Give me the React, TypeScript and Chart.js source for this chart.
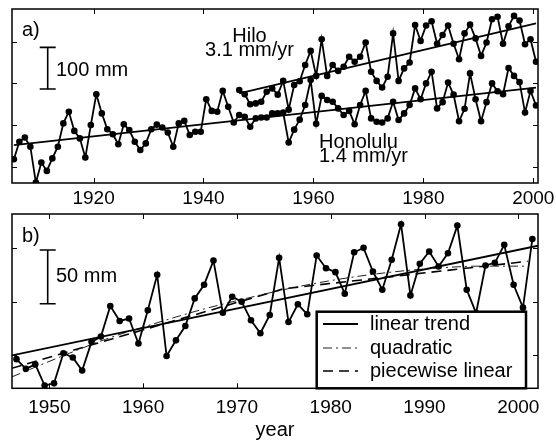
import React, { useEffect, useRef } from "react";
import { Chart, registerables } from "chart.js";
Chart.register(...registerables);

const FONT = "'Liberation Sans', Arial, Helvetica, sans-serif";

// ---------- panel a) ----------
const honoluluStartYear = 1905;
const honoluluValues = [
  18, 60, 70, 48, -38, 10, -10, 20, 48, 104,
  132, 86, 68, 22, 100, 174, 128, 90, 78, 54,
  102, 88, 60, 40, 56, 90, 101, 94, 82, 48,
  104, 110, 76, 84, 84, 162, 134, 132, 182, 144,
  106, 124, 120, 96, 116, 118, 118, 128, 128, 130,
  58, 89, 113, 148, 208, 103, 170, 160, 156, 140,
  124, 134, 102, 148, 182, 116, 108, 106, 116, 156,
  112, 128, 148, 188, 162, 200, 228, 140, 155, 202,
  173, 109, 139, 224, 162, 109, 155, 200, 181, 174,
  237, 218, 203, 130, 182, 147,
];
const hiloStartYear = 1946;
const hiloValues = [
  184, 174, 150, 152, 156, 180, 188, 173, 206, 137,
  196, 205, 244, 278, 218, 306, 218, 244, 230, 240,
  264, 252, 264, 298, 228, 206, 190, 216, 320, 206,
  236, 250, 340, 302, 339, 349, 295, 316, 339, 295,
  258, 320, 341, 308, 266, 298, 354, 360, 295, 337,
  362, 351, 294, 306, 252,
];
const honoluluTrendYears = [1905.5, 2000.5];
const honoluluTrendValues = [52, 190];
const hiloTrendYears = [1946.5, 2000.5];
const hiloTrendValues = [176, 344];
const topTickYears = [1920, 1940, 1960, 1980, 2000];
const topYTicks = [0, 100, 200, 300];

// ---------- panel b) ----------
const bottomStartYear = 1946;
const bottomValues = [
  -3.5, -12.5, -8.3, -28, -26, 2, -2, -14, 12.6, 17.5,
  46, 32, 34.3, 11, 42, 75, -0.5, 14, 27.3, 53,
  65.7, 88.2, 39.6, 54.6, 50, 32.7, 20.6, 37.6, 90.7, 31,
  47.5, 38.2, 92.9, 81.1, 77.4, 57.4, 95.9, 100, 78, 61.1,
  88.9, 122, 55.8, 85.2, 96.6, 82.7, 95, 120.7, 61.1, 39.4,
  83.6, 86.1, 102.8, 65.7, 44.4, 108.3,
];
const linearYears = [1946, 2002.1];
const linearValues = [0, 102];
const quadYears = [1946, 1951, 1956, 1961, 1966, 1971, 1976, 1981, 1986, 1991, 1996, 2001];
const quadValues = [-20, -2, 15, 29, 42, 53, 63, 71, 77, 81, 83, 83];
const pieceYears = [1946, 1975, 2001];
const pieceValues = [-12, 62, 87.5];
const bottomTickYears = [1950, 1960, 1970, 1980, 1990, 2000];
const bottomYTicks = [0, 50, 100];

const MID = 0.5; // annual values plotted at mid-year

const pts = (start: number, vals: number[]) => vals.map((v, i) => ({ x: start + i + MID, y: v }));
const pairs = (xs: number[], ys: number[]) => xs.map((x, i) => ({ x, y: ys[i] }));

function framePlugin(xTicks: number[], yTicks: number[]) {
  return {
    id: "frame",
    afterDatasetsDraw(chart: any) {
      const { ctx, chartArea: a, scales } = chart;
      ctx.save();
      ctx.strokeStyle = "#000";
      ctx.lineWidth = 1;
      const L = 5;
      ctx.beginPath();
      xTicks.forEach((v) => {
        const px = Math.round(scales.x.getPixelForValue(v)) + 0.5;
        ctx.moveTo(px, a.bottom);
        ctx.lineTo(px, a.bottom - L);
        ctx.moveTo(px, a.top);
        ctx.lineTo(px, a.top + L);
      });
      yTicks.forEach((v) => {
        const py = Math.round(scales.y.getPixelForValue(v)) + 0.5;
        ctx.moveTo(a.left, py);
        ctx.lineTo(a.left + L, py);
        ctx.moveTo(a.right, py);
        ctx.lineTo(a.right - L, py);
      });
      ctx.stroke();
      ctx.lineWidth = 1.5;
      ctx.strokeRect(a.left, a.top, a.right - a.left, a.bottom - a.top);
      ctx.restore();
    },
  };
}

type Txt = { t: string; x: number; y: number; align?: CanvasTextAlign };

function notesPlugin(texts: Txt[], bar: { x: number; bottom: number; len: number }) {
  return {
    id: "notes",
    afterDraw(chart: any) {
      const { ctx, scales } = chart;
      ctx.save();
      ctx.fillStyle = "#000";
      ctx.font = `20px ${FONT}`;
      ctx.textBaseline = "alphabetic";
      texts.forEach((s) => {
        ctx.textAlign = s.align || "left";
        ctx.fillText(s.t, s.x, s.y);
      });
      const h = scales.y.getPixelForValue(0) - scales.y.getPixelForValue(bar.len);
      ctx.strokeStyle = "#000";
      ctx.lineWidth = 1.6;
      ctx.beginPath();
      ctx.moveTo(bar.x, bar.bottom);
      ctx.lineTo(bar.x, bar.bottom - h);
      ctx.moveTo(bar.x - 8, bar.bottom);
      ctx.lineTo(bar.x + 8, bar.bottom);
      ctx.moveTo(bar.x - 8, bar.bottom - h);
      ctx.lineTo(bar.x + 8, bar.bottom - h);
      ctx.stroke();
      ctx.restore();
    },
  };
}

const legendPlugin = {
  id: "boxLegend",
  afterDraw(chart: any) {
    const { ctx, chartArea: a } = chart;
    const items = chart.data.datasets.filter((d: any) => d.inLegend);
    const left = 316.7, right = 526, top = 101.7, bottom = a.bottom;
    ctx.save();
    ctx.fillStyle = "#fff";
    ctx.fillRect(left, top, right - left, bottom - top);
    ctx.strokeStyle = "#000";
    ctx.lineWidth = 2.5;
    ctx.strokeRect(left, top, right - left, bottom - top);
    const rows = [114, 138, 161];
    items.forEach((d: any, i: number) => {
      const y = rows[i];
      ctx.beginPath();
      ctx.setLineDash(d.borderDash || []);
      ctx.lineWidth = d.borderWidth;
      ctx.strokeStyle = d.borderColor;
      ctx.moveTo(323, y);
      ctx.lineTo(358, y);
      ctx.stroke();
      ctx.setLineDash([]);
      ctx.fillStyle = "#000";
      ctx.font = `20px ${FONT}`;
      ctx.textBaseline = "middle";
      ctx.textAlign = "left";
      ctx.fillText(d.label, 370, y);
    });
    ctx.restore();
  },
};

const seriesStyle = {
  borderColor: "#000",
  backgroundColor: "#000",
  borderWidth: 1.8,
  pointRadius: 3.3,
  pointBorderWidth: 0,
  pointBackgroundColor: "#000",
  tension: 0,
};
const lineStyle = { borderColor: "#000", borderWidth: 1.8, pointRadius: 0, tension: 0 };

function xScale(min: number, max: number, ticks: number[], height: number, padding: number, title?: any) {
  return {
    type: "linear",
    min,
    max,
    grid: { display: false, drawTicks: false },
    border: { display: false },
    ticks: {
      font: { family: FONT, size: 19 },
      color: "#000",
      padding,
      maxRotation: 0,
      autoSkip: false,
      callback: (v: any) => String(v),
    },
    title: title || { display: false },
    afterBuildTicks: (s: any) => {
      s.ticks = ticks.map((v) => ({ value: v }));
    },
    afterFit: (s: any) => {
      s.height = height;
      s.paddingLeft = 0;
      s.paddingRight = 0;
    },
  };
}

export default function App() {
  const topRef = useRef<HTMLCanvasElement>(null);
  const botRef = useRef<HTMLCanvasElement>(null);

  useEffect(() => {
    const top = new Chart(topRef.current as HTMLCanvasElement, {
      type: "line",
      data: {
        datasets: [
          { label: "Honolulu", data: pts(honoluluStartYear, honoluluValues), ...seriesStyle },
          { label: "Hilo", data: pts(hiloStartYear, hiloValues), ...seriesStyle },
          { label: "Honolulu trend", data: pairs(honoluluTrendYears, honoluluTrendValues), ...lineStyle },
          { label: "Hilo trend", data: pairs(hiloTrendYears, hiloTrendValues), ...lineStyle },
        ] as any,
      },
      options: {
        animation: false,
        responsive: false,
        devicePixelRatio: 1,
        events: [],
        layout: { padding: { left: 12, right: 18, top: 9, bottom: 0 } },
        plugins: { legend: { display: false }, tooltip: { enabled: false } },
        scales: {
          x: xScale(1905.16, 2000.86, topTickYears, 27, 4) as any,
          y: { type: "linear", display: false, min: -39.1, max: 378.5 },
        },
      },
      plugins: [
        framePlugin(topTickYears, topYTicks),
        notesPlugin(
          [
            { t: "a)", x: 22, y: 36 },
            { t: "100 mm", x: 56, y: 76 },
            { t: "Hilo", x: 249.5, y: 41.5, align: "center" },
            { t: "3.1 mm/yr", x: 249.5, y: 55.5, align: "center" },
            { t: "Honolulu", x: 319, y: 147.5 },
            { t: "1.4 mm/yr", x: 319, y: 161.5 },
          ],
          { x: 47.7, bottom: 89, len: 100 }
        ),
      ],
    });

    const bot = new Chart(botRef.current as HTMLCanvasElement, {
      type: "line",
      data: {
        datasets: [
          { label: "data", data: pts(bottomStartYear, bottomValues), ...seriesStyle },
          { label: "linear trend", inLegend: true, data: pairs(linearYears, linearValues), ...lineStyle },
          {
            label: "quadratic",
            inLegend: true,
            data: pairs(quadYears, quadValues),
            borderColor: "#222",
            borderWidth: 1,
            borderDash: [9, 4, 2, 4],
            pointRadius: 0,
            tension: 0.4,
            cubicInterpolationMode: "monotone",
          },
          {
            label: "piecewise linear",
            inLegend: true,
            data: pairs(pieceYears, pieceValues),
            borderColor: "#000",
            borderWidth: 1.6,
            borderDash: [10, 6],
            pointRadius: 0,
            tension: 0,
          },
        ] as any,
      },
      options: {
        animation: false,
        responsive: false,
        devicePixelRatio: 1,
        events: [],
        layout: { padding: { left: 12, right: 18, top: 3.3, bottom: 0 } },
        plugins: { legend: { display: false }, tooltip: { enabled: false } },
        scales: {
          x: xScale(1946.02, 2002.1, bottomTickYears, 53.7, 8.3, {
            display: true,
            text: "year",
            color: "#000",
            font: { family: FONT, size: 20 },
            padding: { top: 0, bottom: 0 },
          }) as any,
          y: { type: "linear", display: false, min: -30.6, max: 131.5 },
        },
      },
      plugins: [
        framePlugin(bottomTickYears, bottomYTicks),
        notesPlugin(
          [
            { t: "b)", x: 22, y: 32 },
            { t: "50 mm", x: 56, y: 72 },
          ],
          { x: 47.7, bottom: 93.7, len: 50 }
        ),
        legendPlugin,
      ],
    });

    return () => {
      top.destroy();
      bot.destroy();
    };
  }, []);

  return (
    <div style={{ position: "fixed", left: 0, top: 0, width: 556, height: 442, background: "#fff" }}>
      <canvas ref={topRef} width={556} height={210} style={{ display: "block", position: "absolute", left: 0, top: 0 }} />
      <canvas ref={botRef} width={556} height={232} style={{ display: "block", position: "absolute", left: 0, top: 210 }} />
    </div>
  );
}
